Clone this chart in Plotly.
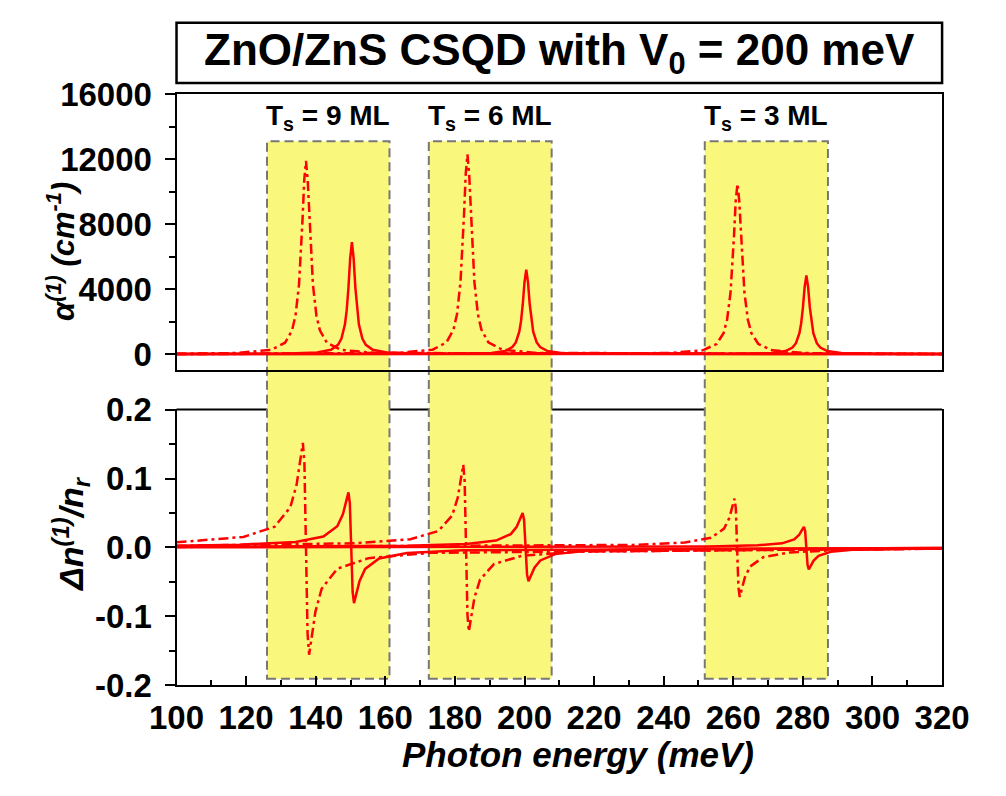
import plotly.graph_objects as go

# ---------------- data ----------------
# Linear absorption alpha^(1) (cm^-1), top panel
ts9_abs_dd_x = [100, 117.2, 127.2, 131.2, 133.2, 134.2, 135.2, 135.7, 136.2, 136.7, 137.2, 137.7, 138.2, 138.7, 139.2, 140.2, 141.2, 143.2, 147.2, 157.2, 320]
ts9_abs_dd_y = [15, 65, 260, 700, 1460, 2380, 4280, 5950, 8240, 10710, 11900, 10710, 8240, 5950, 4280, 2380, 1460, 700, 260, 65, 5]
ts9_abs_so_x = [100, 130.4, 140.4, 144.4, 146.4, 147.4, 148.4, 148.9, 149.4, 149.9, 150.4, 150.9, 151.4, 151.9, 152.4, 153.4, 154.4, 156.4, 160.4, 170.4, 320]
ts9_abs_so_y = [3, 25, 97, 262, 573, 952, 1830, 2690, 4070, 5880, 6900, 5880, 4070, 2690, 1830, 952, 573, 262, 97, 25, 2]

ts6_abs_dd_x = [100, 163.6, 173.6, 177.6, 179.6, 180.6, 181.6, 182.1, 182.6, 183.1, 183.6, 184.1, 184.6, 185.1, 185.6, 186.6, 187.6, 189.6, 193.6, 203.6, 320]
ts6_abs_dd_y = [5, 70, 270, 725, 1510, 2460, 4430, 6150, 8510, 11070, 12300, 11070, 8510, 6150, 4430, 2460, 1510, 725, 270, 70, 5]
ts6_abs_so_x = [100, 180.5, 190.5, 194.5, 196.5, 197.5, 198.5, 199.0, 199.5, 200.0, 200.5, 201.0, 201.5, 202.0, 202.5, 203.5, 204.5, 206.5, 210.5, 220.5, 320]
ts6_abs_so_y = [2, 19, 73, 198, 432, 718, 1380, 2030, 3070, 4430, 5200, 4430, 3070, 2030, 1380, 718, 432, 198, 73, 19, 2]

ts3_abs_dd_x = [100, 241.2, 251.2, 255.2, 257.2, 258.2, 259.2, 259.7, 260.2, 260.7, 261.2, 261.7, 262.2, 262.7, 263.2, 264.2, 265.2, 267.2, 271.2, 281.2, 320]
ts3_abs_dd_y = [5, 60, 230, 620, 1290, 2100, 3780, 5250, 7270, 9450, 10500, 9450, 7270, 5250, 3780, 2100, 1290, 620, 230, 60, 5]
ts3_abs_so_x = [100, 261.0, 271.0, 275.0, 277.0, 278.0, 279.0, 279.5, 280.0, 280.5, 281.0, 281.5, 282.0, 282.5, 283.0, 284.0, 285.0, 287.0, 291.0, 301.0, 320]
ts3_abs_so_y = [2, 17, 68, 184, 403, 670, 1285, 1890, 2860, 4130, 4850, 4130, 2860, 1890, 1285, 670, 403, 184, 68, 17, 8]

# Relative refractive index change dn^(1)/n_r, bottom panel
ts9_rin_dd_x = [100, 119.2, 128.2, 132.7, 134.5, 135.4, 136.3, 136.75, 137.2, 137.65, 138.1, 139.0, 139.9, 141.7, 146.2, 155.2, 173.2, 320]
ts9_rin_dd_y = [0.0074, 0.0152, 0.0301, 0.0585, 0.0912, 0.1216, 0.152, 0.1216, 0.0, -0.1248, -0.156, -0.1248, -0.0936, -0.060, -0.0309, -0.0156, -0.0078, -0.0015]
ts9_rin_so_x = [100, 118.2, 134.2, 142.2, 146.2, 147.8, 148.6, 149.4, 149.8, 150.2, 150.6, 151.0, 151.8, 152.6, 154.2, 158.2, 166.2, 182.2, 320]
ts9_rin_so_y = [0.0026, 0.004, 0.008, 0.0158, 0.0308, 0.048, 0.064, 0.08, 0.064, 0.0, -0.0648, -0.081, -0.0648, -0.0486, -0.0312, -0.016, -0.0081, -0.004, -0.0008]

ts6_rin_dd_x = [100, 151.2, 167.2, 175.2, 179.2, 180.8, 181.6, 182.4, 182.8, 183.2, 183.6, 184.0, 184.8, 185.6, 187.2, 191.2, 199.2, 215.2, 320]
ts6_rin_dd_y = [0.0023, 0.006, 0.012, 0.0238, 0.0462, 0.072, 0.096, 0.12, 0.096, 0.0, -0.0976, -0.122, -0.0976, -0.0732, -0.047, -0.0242, -0.0122, -0.0061, -0.0014]
ts6_rin_so_x = [100, 166.3, 183.3, 191.8, 196.05, 197.75, 198.6, 199.45, 199.875, 200.3, 200.725, 201.15, 202.0, 202.85, 204.55, 208.8, 217.3, 234.3, 320]
ts6_rin_so_y = [0.0009, 0.0025, 0.005, 0.0099, 0.0193, 0.03, 0.04, 0.05, 0.04, 0.0, -0.0392, -0.049, -0.0392, -0.0294, -0.0189, -0.0097, -0.0049, -0.0025, -0.0007]

ts3_rin_dd_x = [100, 231.1, 246.1, 253.6, 257.35, 258.85, 259.6, 260.35, 260.725, 261.1, 261.475, 261.85, 262.6, 263.35, 264.85, 268.6, 276.1, 291.1, 320]
ts3_rin_dd_y = [0.0007, 0.0036, 0.0071, 0.0141, 0.0273, 0.0426, 0.0568, 0.071, 0.0568, 0.0, -0.0576, -0.072, -0.0576, -0.0432, -0.0277, -0.0143, -0.0072, -0.0036, -0.0018]
ts3_rin_so_x = [100, 253.0, 267.0, 274.0, 277.5, 278.9, 279.6, 280.3, 280.65, 281.0, 281.35, 281.7, 282.4, 283.1, 284.5, 288.0, 295.0, 309.0, 320]
ts3_rin_so_y = [0.0002, 0.0015, 0.003, 0.0059, 0.0116, 0.018, 0.024, 0.03, 0.024, 0.0, -0.0256, -0.032, -0.0256, -0.0192, -0.0123, -0.0063, -0.0032, -0.0016, -0.0012]

# Highlighted shell-thickness windows (meV) and labels
shell_labels = ["9", "6", "3"]
box_start = [126.0, 172.5, 251.8]
box_end = [161.2, 207.8, 287.2]

# Tick values / labels
x_ticks = [100, 120, 140, 160, 180, 200, 220, 240, 260, 280, 300, 320]
y1_ticks = [0, 4000, 8000, 12000, 16000]
y2_ticks = [-0.2, -0.1, 0.0, 0.1, 0.2]
y2_tick_text = ["-0.2", "-0.1", "0.0", "0.1", "0.2"]

# ---------------- figure ----------------
W, H = 1006, 796
RED = "#FF0000"
FONT = "Liberation Sans, Arial, sans-serif"
DASHDOT = "10px,4px,3px,4px"

fig = go.Figure()

top_series = [
    (ts9_abs_dd_x, ts9_abs_dd_y, DASHDOT), (ts9_abs_so_x, ts9_abs_so_y, "solid"),
    (ts6_abs_dd_x, ts6_abs_dd_y, DASHDOT), (ts6_abs_so_x, ts6_abs_so_y, "solid"),
    (ts3_abs_dd_x, ts3_abs_dd_y, DASHDOT), (ts3_abs_so_x, ts3_abs_so_y, "solid"),
]
bot_series = [
    (ts9_rin_dd_x, ts9_rin_dd_y, DASHDOT), (ts9_rin_so_x, ts9_rin_so_y, "solid"),
    (ts6_rin_dd_x, ts6_rin_dd_y, DASHDOT), (ts6_rin_so_x, ts6_rin_so_y, "solid"),
    (ts3_rin_dd_x, ts3_rin_dd_y, DASHDOT), (ts3_rin_so_x, ts3_rin_so_y, "solid"),
]
for xs, ys, dash in top_series:
    fig.add_trace(go.Scatter(x=xs, y=ys, mode="lines", xaxis="x", yaxis="y",
                             line=dict(color=RED, width=2.5, dash=dash), showlegend=False))
for xs, ys, dash in bot_series:
    fig.add_trace(go.Scatter(x=xs, y=ys, mode="lines", xaxis="x2", yaxis="y2",
                             line=dict(color=RED, width=2.5, dash=dash), showlegend=False))

xdom = [158 / W, 967 / W]
y1dom = [1 - 369 / H, 1 - 80 / H]
y2dom = [1 - 699 / H, 1 - 410 / H]
tickfont = dict(family=FONT, size=33, color="black", weight="bold")

fig.update_layout(
    width=W, height=H, margin=dict(l=0, r=0, t=0, b=0),
    paper_bgcolor="white", plot_bgcolor="rgba(0,0,0,0)", showlegend=False,
    xaxis=dict(domain=xdom, anchor="y", range=[100, 320], showline=True, mirror=True,
               linecolor="black", linewidth=2, ticks="", showticklabels=False,
               showgrid=False, zeroline=False),
    yaxis=dict(domain=y1dom, anchor="x", range=[-1000, 16000], showline=True, mirror=True,
               linecolor="black", linewidth=2, ticks="outside", ticklen=10, tickwidth=2,
               tickcolor="black", tickvals=y1_ticks, tickformat="d", tickfont=tickfont,
               ticklabelstandoff=6,
               minor=dict(ticks="outside", ticklen=6, tickwidth=2, tickcolor="black", dtick=2000, tick0=0),
               showgrid=False, zeroline=False),
    xaxis2=dict(domain=xdom, anchor="y2", range=[99.99, 320.01], showline=True, mirror=False,
                linecolor="black", linewidth=2, ticks="inside", ticklen=9, tickwidth=2,
                tickcolor="black", tickvals=x_ticks, tickfont=tickfont, ticklabelstandoff=2,
                minor=dict(ticks="inside", ticklen=5, tickwidth=2, tickcolor="black", dtick=10, tick0=100),
                showgrid=False, zeroline=False),
    yaxis2=dict(domain=y2dom, anchor="x2", range=[-0.2005, 0.2005], showline=True, mirror=True,
                linecolor="black", linewidth=2, ticks="outside", ticklen=10, tickwidth=2,
                tickcolor="black", tickvals=y2_ticks, ticktext=y2_tick_text, tickfont=tickfont,
                ticklabelstandoff=6,
                minor=dict(ticks="outside", ticklen=6, tickwidth=2, tickcolor="black", dtick=0.05, tick0=0),
                showgrid=False, zeroline=False),
)

shapes = []
# top edge of the lower panel (sits beneath the highlight windows)
shapes.append(dict(type="line", xref="x2 domain", yref="y2 domain", x0=0, x1=1, y0=1, y1=1,
                   line=dict(color="black", width=2), layer="below"))
for s, e in zip(box_start, box_end):
    shapes.append(dict(type="rect", xref="x", yref="paper", x0=s, x1=e,
                       y0=1 - 692 / H, y1=1 - 129 / H,
                       fillcolor="rgb(250,247,125)", layer="below",
                       line=dict(color="#777777", width=2, dash="9px,5px")))
# title box
shapes.append(dict(type="rect", xref="paper", yref="paper", x0=xdom[0], x1=xdom[1],
                   y0=1 - 68 / H, y1=1 - 5 / H, fillcolor="white",
                   line=dict(color="black", width=2.5)))
fig.update_layout(shapes=shapes)

bold = dict(family=FONT, color="black", weight="bold")
bold_it = dict(family=FONT, color="black", weight="bold", style="italic")

ann = []
ann.append(dict(text="ZnO/ZnS CSQD with V<sub>0</sub> = 200 meV", xref="paper", yref="paper",
                x=(xdom[0] + xdom[1]) / 2, y=1 - 37 / H, xanchor="center", yanchor="middle",
                showarrow=False, font=dict(bold, size=44)))
for lab, s, e in zip(shell_labels, box_start, box_end):
    ann.append(dict(text="T<sub>s</sub> = " + lab + " ML", xref="x", yref="paper",
                    x=(s + e) / 2, y=1 - 104 / H, xanchor="center", yanchor="middle",
                    showarrow=False, font=dict(bold, size=28)))
ann.append(dict(text="α<sup>(1)</sup> (cm<sup>-1</sup>)", xref="paper", yref="paper",
                x=36 / W, y=1 - 245 / H, xanchor="center", yanchor="middle", textangle=-90,
                showarrow=False, font=dict(bold_it, size=31)))
ann.append(dict(text="Δn<sup>(1)</sup>/n<sub>r</sub>", xref="paper", yref="paper",
                x=46 / W, y=1 - 541 / H, xanchor="center", yanchor="middle", textangle=-90,
                showarrow=False, font=dict(bold_it, size=34)))
ann.append(dict(text="Photon energy (meV)", xref="paper", yref="paper",
                x=582 / W, y=1 - 771 / H, xanchor="center", yanchor="middle",
                showarrow=False, font=dict(bold_it, size=35)))
fig.update_layout(annotations=ann)

fig.write_html("out.html")
